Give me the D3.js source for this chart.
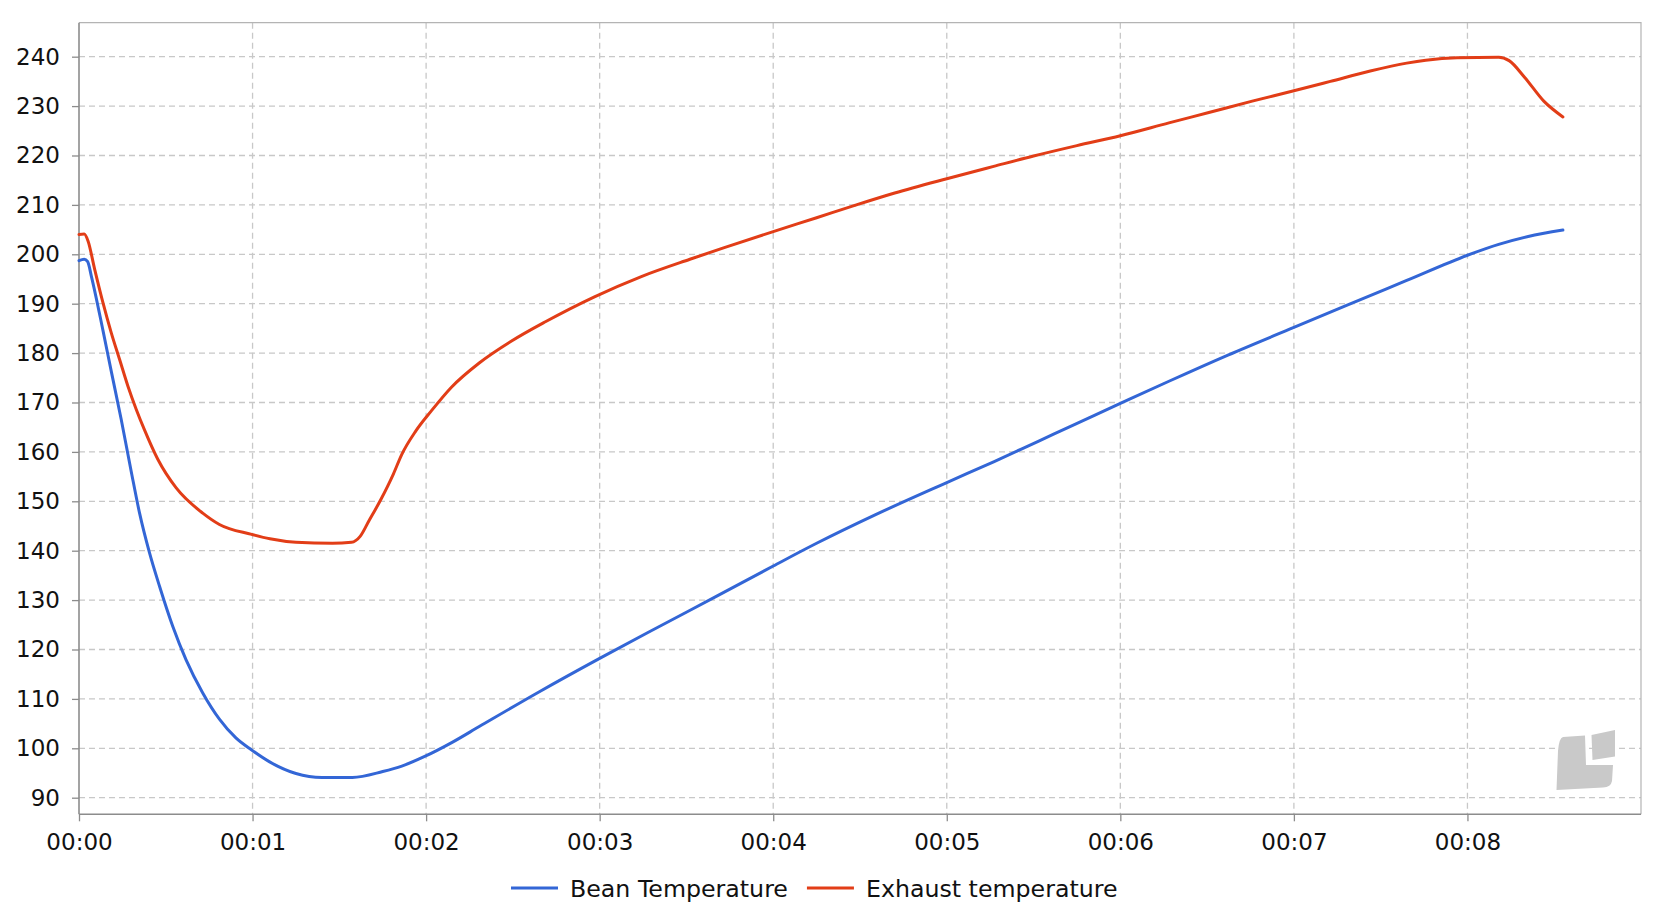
<!DOCTYPE html>
<html>
<head>
<meta charset="utf-8">
<script src="https://cdn.jsdelivr.net/npm/d3@7"></script>
<style>
  html, body { margin: 0; padding: 0; background: #fff; }
  svg { display: block; font-family: "DejaVu Sans", sans-serif; }
</style>
</head>
<body>
<svg id="chart" width="1678" height="914"></svg>
<script>
const beanTime = [0, 0.03, 0.05, 0.071, 0.138, 0.186, 0.243, 0.30, 0.349, 0.406, 0.464, 0.54, 0.617, 0.713, 0.809, 0.904, 0.993, 1.096, 1.25, 1.40, 1.575, 1.75, 1.86, 1.995, 2.15, 2.306, 2.65, 3.0, 3.33, 3.68, 4.0, 4.25, 4.59, 5.0, 5.27, 5.53, 5.71, 6.0, 6.28, 6.62, 7.0, 7.30, 7.65, 8.0, 8.18, 8.35, 8.55];
const beanTemp = [198.7, 199.0, 198.5, 195.6, 184.6, 176.3, 166.6, 156.2, 147.6, 139.6, 132.8, 124.7, 117.9, 111.2, 105.9, 102.1, 99.7, 97.3, 94.9, 94.1, 94.1, 95.3, 96.4, 98.4, 101.2, 104.4, 111.4, 118.2, 124.4, 130.9, 136.9, 141.5, 147.3, 153.8, 158.0, 162.2, 165.1, 169.8, 174.3, 179.6, 185.2, 189.6, 194.7, 199.8, 202.0, 203.6, 204.9];

const exhaustTime = [0, 0.03, 0.052, 0.09, 0.138, 0.186, 0.234, 0.282, 0.33, 0.378, 0.454, 0.56, 0.713, 0.809, 0.995, 1.10, 1.25, 1.46, 1.57, 1.62, 1.67, 1.74, 1.81, 1.86, 1.94, 2.03, 2.146, 2.306, 2.49, 2.69, 2.97, 3.24, 3.52, 3.74, 4.0, 4.25, 4.47, 4.70, 5.0, 5.27, 5.50, 5.75, 6.0, 6.28, 6.51, 6.76, 7.0, 7.21, 7.44, 7.65, 7.76, 7.94, 8.18, 8.24, 8.33, 8.44, 8.55];
const exhaustTemp = [204.0, 204.1, 202.7, 197.0, 190.2, 184.1, 178.7, 173.3, 168.6, 164.4, 158.5, 152.7, 147.6, 145.3, 143.3, 142.4, 141.7, 141.5, 141.7, 142.9, 146.0, 150.4, 155.4, 159.5, 164.2, 168.3, 173.1, 178.0, 182.4, 186.4, 191.4, 195.5, 199.0, 201.6, 204.6, 207.4, 209.9, 212.4, 215.3, 217.8, 219.9, 222.0, 224.0, 226.6, 228.7, 231.0, 233.1, 235.0, 237.1, 238.7, 239.3, 239.8, 239.9, 239.2, 235.8, 231.0, 227.8];

const xTicks = [0, 1, 2, 3, 4, 5, 6, 7, 8];
const yTicks = [90, 100, 110, 120, 130, 140, 150, 160, 170, 180, 190, 200, 210, 220, 230, 240];
const seriesNames = ["Bean Temperature", "Exhaust temperature"];
const seriesColors = ["#3366d6", "#e23d17"];

const plot = { left: 79, right: 1641, top: 22.7, bottom: 814.3 };

const svg = d3.select("#chart");

const x = d3.scaleLinear().domain([0, 9]).range([plot.left, plot.right]);
const y = d3.scaleLinear().domain([86.64, 246.88]).range([plot.bottom, plot.top]);

// grid
svg.append("g")
  .selectAll("line")
  .data(yTicks)
  .join("line")
  .attr("x1", plot.left).attr("x2", plot.right)
  .attr("y1", d => y(d)).attr("y2", d => y(d))
  .attr("stroke", "#c8c8c8").attr("stroke-width", 1.3)
  .attr("stroke-dasharray", "6,4");

svg.append("g")
  .selectAll("line")
  .data(xTicks.slice(1))
  .join("line")
  .attr("x1", d => x(d)).attr("x2", d => x(d))
  .attr("y1", plot.top).attr("y2", plot.bottom)
  .attr("stroke", "#c8c8c8").attr("stroke-width", 1.3)
  .attr("stroke-dasharray", "6,4");

// frame
svg.append("path")
  .attr("d", `M${plot.left},${plot.top}H${plot.right}V${plot.bottom}`)
  .attr("fill", "none").attr("stroke", "#b4b4b4").attr("stroke-width", 1.2);

// watermark
svg.append("path")
  .attr("d", "M1563,737 L1585,735.5 L1586,765 L1613,765 L1612,781 Q1611,787 1603,787.5 L1556.5,790 L1558,751 Q1559,738 1563,737 Z")
  .attr("fill", "#c9c9c9");
svg.append("path")
  .attr("d", "M1591.5,735 L1615,730 L1615,756.5 L1592.5,760 Z")
  .attr("fill", "#c9c9c9");

const xAxis = d3.axisBottom(x)
  .tickValues(xTicks)
  .tickSize(7)
  .tickPadding(12)
  .tickFormat(d => "00:" + d3.format("02d")(d));

const yAxis = d3.axisLeft(y)
  .tickValues(yTicks)
  .tickSize(7)
  .tickPadding(12)
  .tickFormat(d3.format("d"));

const gx = svg.append("g")
  .attr("transform", `translate(0,${plot.bottom})`)
  .call(xAxis);
const gy = svg.append("g")
  .attr("transform", `translate(${plot.left},0)`)
  .call(yAxis);

[gx, gy].forEach(g => {
  g.select(".domain").attr("stroke", "#8c8c8c").attr("stroke-width", 1.6);
  g.selectAll(".tick line").attr("stroke", "#8c8c8c").attr("stroke-width", 1.3);
  g.selectAll(".tick text")
    .attr("fill", "#111")
    .style("font-family", "'DejaVu Sans', sans-serif")
    .style("font-size", "23px");
});
gx.select(".domain").attr("d", `M${plot.left},0H${plot.right}`);
gy.select(".domain").attr("d", `M0,${plot.bottom}V${plot.top}`);

// series
const beanData = beanTime.map((t, i) => ({ t, v: beanTemp[i] }));
const exhaustData = exhaustTime.map((t, i) => ({ t, v: exhaustTemp[i] }));

const line = d3.line()
  .x(d => x(d.t))
  .y(d => y(d.v))
  .curve(d3.curveMonotoneX);

[beanData, exhaustData].forEach((data, i) => {
  svg.append("path")
    .datum(data)
    .attr("d", line)
    .attr("fill", "none")
    .attr("stroke", seriesColors[i])
    .attr("stroke-width", 3)
    .attr("stroke-linejoin", "round")
    .attr("stroke-linecap", "round");
});

// legend
const legend = svg.append("g").attr("transform", "translate(511,888)");
let lx = 0;
seriesNames.forEach((name, i) => {
  legend.append("line")
    .attr("x1", lx).attr("x2", lx + 47)
    .attr("y1", 0).attr("y2", 0)
    .attr("stroke", seriesColors[i])
    .attr("stroke-width", 3.2);
  const txt = legend.append("text")
    .attr("x", lx + 59)
    .attr("y", 0)
    .attr("dy", "0.36em")
    .attr("fill", "#111")
    .style("font-size", "23.7px")
    .text(name);
  lx += 59 + txt.node().getComputedTextLength() + 19;
});
</script>
</body>
</html>
